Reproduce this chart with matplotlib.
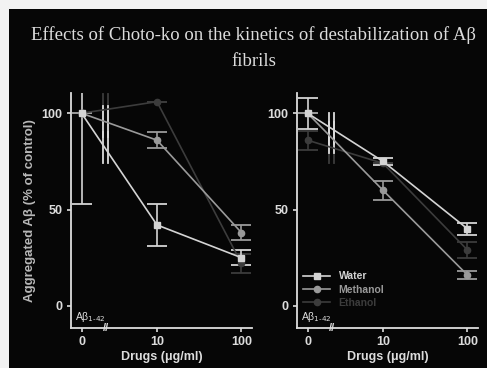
import matplotlib
matplotlib.use("Agg")
import matplotlib.pyplot as plt
from matplotlib.lines import Line2D
from matplotlib.patches import Rectangle

# doses and their positions on the (broken) x axis
doses = ["0", "10", "100"]
x_pos = [0, 1, 2.12]

series = ["Water", "Methanol", "Ethanol"]
colors = {"Water": "#d4d4d4", "Methanol": "#9a9a9a", "Ethanol": "#3c3c3c"}
markers = {"Water": "s", "Methanol": "o", "Ethanol": "o"}

# left panel (% of control)
left_water = [100, 42, 25]
left_water_err = [47, 11, 4]
left_methanol = [100, 86, 38]
left_methanol_err = [0, 4, 4]
left_ethanol = [100, 106, 22]
left_ethanol_err = [0, 0, 5]

# right panel (% of control)
right_water = [100, 75, 40]
right_water_err = [8, 2, 3]
right_methanol = [100, 60, 16]
right_methanol_err = [0, 5, 2]
right_ethanol = [86, 74, 29]
right_ethanol_err = [5, 0, 4]

BG = "#060606"
FG = "#dcdcdc"
plt.rcParams["font.family"] = ["Liberation Sans", "DejaVu Sans"]

fig = plt.figure(figsize=(4.87, 3.68), dpi=100, facecolor=BG)
# white frame on top and left like the scanned figure
fig.patches.append(Rectangle((0, 0), 9 / 487, 1, transform=fig.transFigure,
                             facecolor="#f2f2f2", edgecolor="none"))
fig.patches.append(Rectangle((0, 1 - 9 / 368), 1, 9 / 368, transform=fig.transFigure,
                             facecolor="#f2f2f2", edgecolor="none"))

fig.text(254 / 487, 1 - 35 / 368, "Effects of Choto-ko on the kinetics of destabilization of A\u03b2",
         ha="center", va="center", color=FG, fontsize=13.5, family="Liberation Serif")
fig.text(254 / 487, 1 - 62 / 368, "fibrils", ha="center", va="center", color=FG,
         fontsize=13.5, family="Liberation Serif")


def draw_panel(ax, data, errs):
    ax.set_facecolor(BG)
    for name in ["Ethanol", "Methanol", "Water"]:
        c = colors[name]
        ax.errorbar(x_pos, data[name], yerr=errs[name], color=c, marker=markers[name],
                    markersize=4.5, markerfacecolor=c, markeredgecolor=c, lw=1.2,
                    capsize=7, capthick=1.3, elinewidth=1.2)
        # break marks across the line between 0 and 10
        y_b = data[name][0] + (data[name][1] - data[name][0]) * 0.31
        for xb in (0.28, 0.35):
            ax.plot([xb, xb], [y_b - 8, y_b + 8], color=FG if name != "Ethanol" else c, lw=1.3)
    ax.set_xlim(-0.14, 2.26)
    ax.set_ylim(-11.5, 110.5)
    ax.set_xticks(x_pos)
    ax.set_xticklabels(doses)
    ax.set_yticks([0, 50, 100])
    for s in ("top", "right"):
        ax.spines[s].set_visible(False)
    for s in ("left", "bottom"):
        ax.spines[s].set_color(FG)
        ax.spines[s].set_linewidth(1.3)
    ax.tick_params(colors=FG, labelcolor=FG, length=3, width=1.2, labelsize=9, pad=3)
    for lab in ax.get_xticklabels() + ax.get_yticklabels():
        lab.set_fontweight("bold")
    # axis break on x axis
    ax.text(0.33, -11.5, "//", color=FG, fontsize=8, fontweight="bold",
            ha="center", va="center", clip_on=False)
    ax.text(0.02, 0.015, "A\u03b2$_{1\u201042}$", transform=ax.transAxes, color=FG,
            fontsize=7.5, ha="left", va="bottom")
    ax.set_xlabel("Drugs (\u03bcg/ml)", color=FG, fontsize=9, fontweight="bold", labelpad=2)


ax1 = fig.add_axes([71 / 487, 1 - 328 / 368, 181 / 487, 235 / 368])
draw_panel(ax1,
           {"Water": left_water, "Methanol": left_methanol, "Ethanol": left_ethanol},
           {"Water": left_water_err, "Methanol": left_methanol_err, "Ethanol": left_ethanol_err})
ax1.set_ylabel("Aggregated A\u03b2 (% of control)", color="#b8b8b8", fontsize=9.5,
               fontweight="bold", labelpad=4)

ax2 = fig.add_axes([297 / 487, 1 - 328 / 368, 181 / 487, 235 / 368])
draw_panel(ax2,
           {"Water": right_water, "Methanol": right_methanol, "Ethanol": right_ethanol},
           {"Water": right_water_err, "Methanol": right_methanol_err, "Ethanol": right_ethanol_err})

handles = [Line2D([], [], color=colors[n], marker=markers[n], markersize=4.5, lw=1.2)
           for n in series]
ax2.legend(handles, series, loc="lower left", bbox_to_anchor=(0.0, 0.06), frameon=False,
           handlelength=2.6, handletextpad=0.8, labelspacing=0.3, borderaxespad=0.2,
           labelcolor="linecolor", prop={"weight": "bold", "size": 7.5})

fig.savefig("out.png", dpi=100, facecolor=BG)
